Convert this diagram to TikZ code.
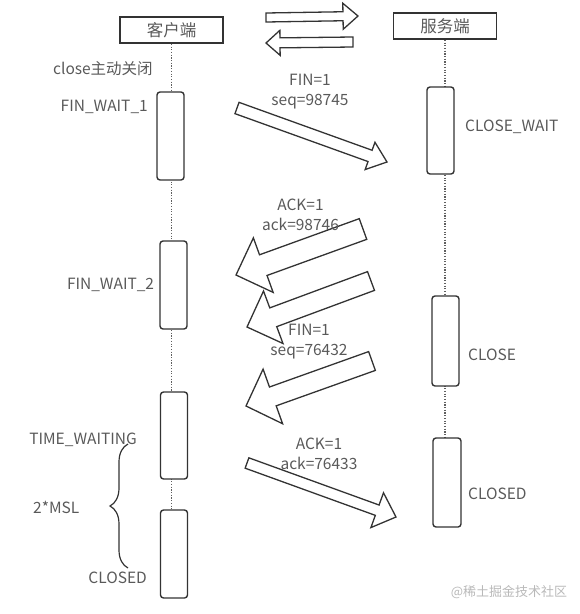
\documentclass[tikz,border=0pt]{standalone}
\usepackage{fontspec}
\setmainfont{Noto Sans CJK SC}
\usetikzlibrary{calc, positioning, decorations.pathreplacing}

\definecolor{linegray}{RGB}{51,51,51}
\definecolor{textgray}{RGB}{89,89,89}
\definecolor{dotgray}{RGB}{95,95,95}

% hollow block arrow: name, tail, tip, shaft half width, head half width, head length
\newcommand{\blockarrow}[6]{%
  \coordinate (#1-b) at ($(#3)!#6!(#2)$);
  \draw[blockarr] ($(#2)!#4!90:(#3)$) -- ($(#1-b)!#4!-90:(#2)$) -- ($(#1-b)!#5!-90:(#2)$)
    -- (#3) -- ($(#1-b)!#5!90:(#2)$) -- ($(#1-b)!#4!90:(#2)$) -- ($(#2)!#4!-90:(#3)$) -- cycle;
}

\begin{document}
\begin{tikzpicture}[
  x=1pt, y=-1pt,
  header/.style={draw=linegray, line width=1.6pt, minimum width=103pt, minimum height=26pt, inner sep=0pt, fill=white, font=\fontsize{16.5}{18}\selectfont, text=textgray},
  actbox/.style={draw=linegray, line width=1.4pt, rounded corners=3pt, minimum width=27pt, inner sep=0pt, fill=white},
  state/.style={font=\fontsize{15.5}{18}\selectfont, text=textgray, inner sep=0pt},
  msglabel/.style={font=\fontsize{15.5}{20}\selectfont, text=textgray, inner sep=0pt, align=center},
  lifeline/.style={draw=dotgray, line width=1.2pt, dash pattern=on 1.2pt off 1.5pt},
  blockarr/.style={draw=linegray, line width=1.3pt, line join=miter}
]
\useasboundingbox (0,0) rectangle (580,614);

% headers
\node[header] (client) at (171.5,30) {客户端};
\node[header] (server) at (445,26) {服务端};

\draw[lifeline] (client.south) -- (client.south |- 0,510);
\draw[lifeline] (server.south) -- (server.south |- 0,438);

% activation boxes
\node[actbox, minimum height=88pt] (c1) at (170.5,136) {};
\node[actbox, minimum height=88pt] (c2) at (173.5,285) {};
\node[actbox, minimum height=87pt] (c3) at (174,435.5) {};
\node[actbox, minimum height=88pt] (c4) at (174,554) {};
\node[actbox, minimum height=87pt] (s1) at (440.5,130.5) {};
\node[actbox, minimum height=90pt] (s2) at (445.5,341) {};
\node[actbox, minimum height=89pt, minimum width=28pt] (s3) at (447,482.5) {};

% states
\node[state, anchor=west] (close) at (53,69) {close主动关闭};
\node[state, anchor=east] (fw1) at (148,107) {FIN\_WAIT\_1};
\node[state, left=5pt of c2] (fw2) {FIN\_WAIT\_2};
\node[state, anchor=east] (tw) at (137,440) {TIME\_WAITING};
\node[state, anchor=west] (msl) at (33,507) {2*MSL};
\node[state, anchor=east] (cclosed) at (147,578) {CLOSED};
\node[state, anchor=west] (cw) at (465,127) {CLOSE\_WAIT};
\node[state, anchor=west] (sclose) at (468,355) {CLOSE};
\node[state, anchor=west] (sclosed) at (468,494) {CLOSED};

\coordinate (bt) at (128,444);
\coordinate (bb) at (128,568);
\draw[linegray, line width=1.2pt, decorate, decoration={brace, amplitude=18pt}] (bb) -- (bt);

% top arrows
\coordinate (ta1) at (266,17.5);
\coordinate (tb1) at (358,16);
\coordinate (ta2) at (353,42);
\coordinate (tb2) at (266,43);
\blockarrow{t1}{ta1}{tb1}{4.5pt}{13pt}{15pt}
\blockarrow{t2}{ta2}{tb2}{5pt}{12.5pt}{14pt}

% messages
\coordinate (m1a) at (237,108);
\coordinate (m1b) at (387,162);
\coordinate (m2a) at (363,229);
\coordinate (m2b) at (236,275);
\coordinate (m3a) at (371,281);
\coordinate (m3b) at (247,327);
\coordinate (m4a) at (372,361);
\coordinate (m4b) at (246,406);
\coordinate (m5a) at (247,463);
\coordinate (m5b) at (396,517);
\blockarrow{m1}{m1a}{m1b}{6pt}{14.5pt}{18pt}
\blockarrow{m2}{m2a}{m2b}{11pt}{29pt}{29pt}
\blockarrow{m3}{m3a}{m3b}{10pt}{28pt}{28pt}
\blockarrow{m4}{m4a}{m4b}{10pt}{29pt}{28.5pt}
\blockarrow{m5}{m5a}{m5b}{5.5pt}{18.5pt}{20pt}

\node[msglabel] (l1) at (310,92) {FIN=1\\seq=98745};
\node[msglabel] (l2) at (300.5,214.5) {ACK=1\\ack=98746};
\node[msglabel] (l4) at (309,341.5) {FIN=1\\seq=76432};
\node[msglabel] (l5) at (319,453.5) {ACK=1\\ack=76433};

\node[font=\fontsize{13}{15}\selectfont, text=gray!55, inner sep=0pt] (mark) at (509,592) {@稀土掘金技术社区};
\end{tikzpicture}
\end{document}
